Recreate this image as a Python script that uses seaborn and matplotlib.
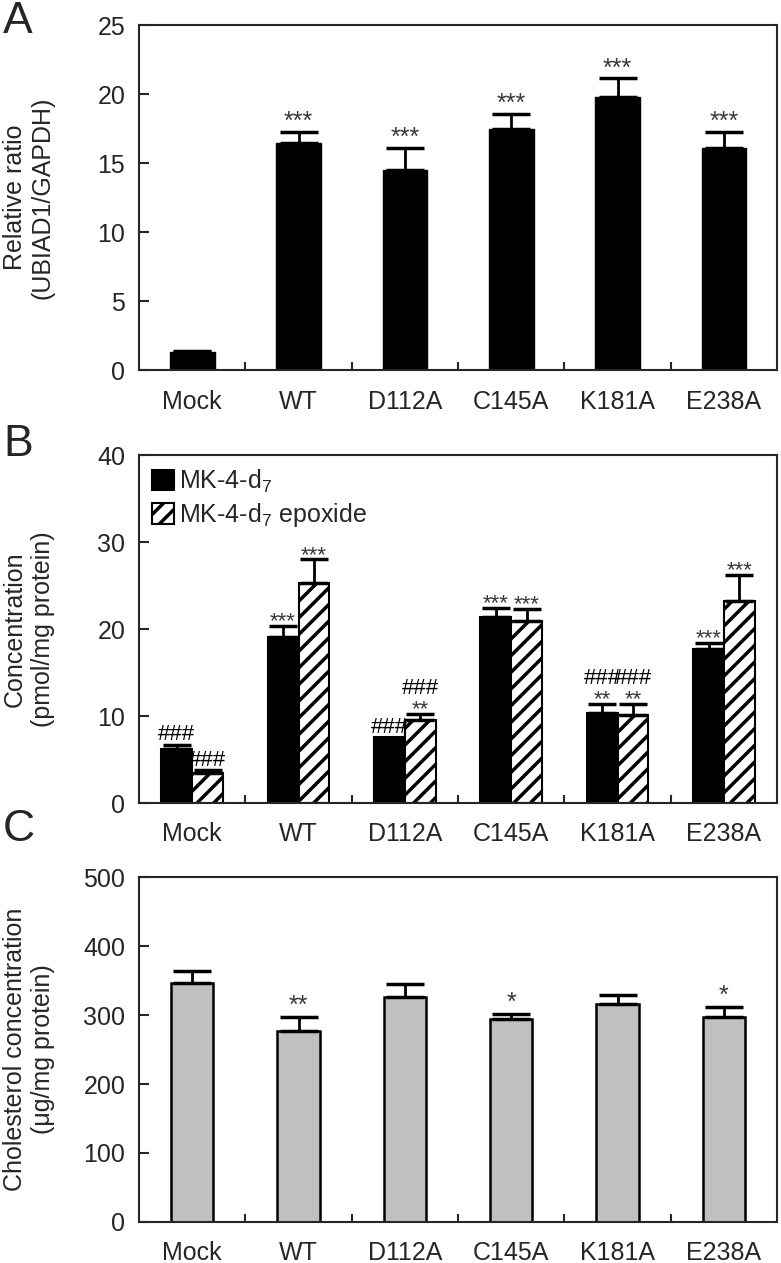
import matplotlib
matplotlib.use('Agg')
import matplotlib.pyplot as plt
import seaborn as sns
import numpy as np
import pandas as pd

groups = ['Mock', 'WT', 'D112A', 'C145A', 'K181A', 'E238A']

# A - UBIAD1 expression
ratio_mean = [1.3, 16.45, 14.5, 17.45, 19.8, 16.1]
ratio_err = [0.1, 0.8, 1.6, 1.1, 1.35, 1.15]
ratio_stars = ['', '***', '***', '***', '***', '***']

# B - MK-4-d7 / MK-4-d7 epoxide
mk4_mean = [6.2, 19.1, 7.6, 21.4, 10.3, 17.7]
mk4_err = [0.5, 1.2, 0.0, 1.0, 1.1, 0.7]
mk4_stars = ['', '***', '', '***', '**', '***']
mk4_hash = ['###', '', '###', '', '###', '']
epo_mean = [3.5, 25.3, 9.6, 20.9, 10.1, 23.2]
epo_err = [0.3, 2.7, 0.6, 1.4, 1.3, 3.0]
epo_stars = ['', '***', '**', '***', '**', '***']
epo_hash = ['###', '', '###', '', '###', '']
series = ['MK-4-d$_7$', 'MK-4-d$_7$ epoxide']

# C - cholesterol
chol_mean = [346, 277, 326, 294, 316, 297]
chol_err = [18, 20, 19, 7, 13, 15]
chol_stars = ['', '**', '', '*', '', '*']

sns.set_style('ticks')
plt.rcParams['font.family'] = ['Liberation Sans', 'DejaVu Sans']
plt.rcParams['mathtext.fontset'] = 'custom'
plt.rcParams['mathtext.rm'] = 'Liberation Sans'
plt.rcParams['mathtext.it'] = 'Liberation Sans:italic'
plt.rcParams['hatch.linewidth'] = 2.5

fig = plt.figure(figsize=(7.81, 12.63), dpi=100)
axA = fig.add_axes([0.178, 0.707, 0.817, 0.273])
axB = fig.add_axes([0.178, 0.3642, 0.817, 0.2755])
axC = fig.add_axes([0.178, 0.0325, 0.817, 0.273])


def style_axis(ax, ymax, ystep, ylabel):
    ax.set_xlim(-0.5, 5.5)
    ax.set_ylim(0, ymax)
    ax.set_yticks(np.arange(0, ymax + 1, ystep))
    ax.set_xticks(np.arange(0.5, 5, 1), minor=True)
    ax.tick_params(axis='y', direction='in', length=7, width=1.5, labelsize=18, pad=10)
    ax.tick_params(axis='x', which='major', length=0, labelsize=18, pad=14)
    ax.tick_params(axis='x', which='minor', direction='in', length=6, width=1.5)
    for s in ax.spines.values():
        s.set_visible(True)
        s.set_linewidth(1.5)
    ax.set_xlabel('')
    ax.set_ylabel(ylabel, fontsize=18, linespacing=1.2)
    ax.yaxis.set_label_coords(-0.132, 0.5)


def add_err(ax, x, mean, err, cap):
    x = np.array(x); mean = np.array(mean, float); err = np.array(err, float)
    m = err > 0
    ax.errorbar(x[m], mean[m], yerr=[np.zeros(m.sum()), err[m]], fmt='none',
                ecolor='black', elinewidth=2, capsize=cap, capthick=2.5, zorder=3)


def add_marks(ax, x, top, stars, hashes, fs, off, hash_alone=-0.5, hash_above=11):
    for xi, t, s, h in zip(x, top, stars, hashes):
        if s:
            ax.annotate(s, (xi, t), xytext=(0, off), textcoords='offset points',
                        ha='center', va='bottom', fontsize=fs, color='#383838')
        if h:
            ax.annotate(h, (xi, t), xytext=(0, hash_above if s else hash_alone),
                        textcoords='offset points', ha='center', va='bottom',
                        fontsize=16, color='black')


# ---- A
dfA = pd.DataFrame({'group': groups, 'value': ratio_mean})
sns.barplot(data=dfA, x='group', y='value', color='black', width=0.42, ax=axA,
            edgecolor='black', linewidth=1, errorbar=None)
xA = [p.get_x() + p.get_width() / 2 for p in axA.patches]
add_err(axA, xA, ratio_mean, ratio_err, 13.5)
topA = np.array(ratio_mean) + np.array(ratio_err)
add_marks(axA, xA, topA, ratio_stars, [''] * 6, 18, -1.5)
style_axis(axA, 25, 5, 'Relative ratio\n(UBIAD1/GAPDH)')

# ---- B
dfB = pd.DataFrame({'group': groups * 2,
                    'value': mk4_mean + epo_mean,
                    'kind': [series[0]] * 6 + [series[1]] * 6})
sns.barplot(data=dfB, x='group', y='value', hue='kind', palette=['black', 'white'],
            width=0.58, ax=axB, edgecolor='black', linewidth=1.5, errorbar=None,
            legend=False)
for p in axB.containers[1]:
    p.set_hatch('//')
    p.set_facecolor('white')
    p.set_edgecolor('black')
xB1 = [p.get_x() + p.get_width() / 2 for p in axB.containers[0]]
xB2 = [p.get_x() + p.get_width() / 2 for p in axB.containers[1]]
add_err(axB, xB1, mk4_mean, mk4_err, 10)
add_err(axB, xB2, epo_mean, epo_err, 10)
add_marks(axB, xB1, np.array(mk4_mean) + np.array(mk4_err), mk4_stars, mk4_hash, 16, -4.5)
add_marks(axB, xB2, np.array(epo_mean) + np.array(epo_err), epo_stars, epo_hash, 16, -4.5)
axB.legend(handles=[axB.containers[0][0], axB.containers[1][0]], labels=series,
           loc='upper left', frameon=False, fontsize=18, handlelength=0.9,
           handleheight=0.9, handletextpad=0.2, labelspacing=0.25,
           borderaxespad=0.3, borderpad=0.2)
style_axis(axB, 40, 10, 'Concentration\n(pmol/mg protein)')

# ---- C
dfC = pd.DataFrame({'group': groups, 'value': chol_mean})
sns.barplot(data=dfC, x='group', y='value', color='#c0c0c0', width=0.40, ax=axC,
            edgecolor='black', linewidth=1.8, errorbar=None, saturation=1)
xC = [p.get_x() + p.get_width() / 2 for p in axC.patches]
add_err(axC, xC, chol_mean, chol_err, 13.5)
add_marks(axC, xC, np.array(chol_mean) + np.array(chol_err), chol_stars, [''] * 6, 18, -0.5)
style_axis(axC, 500, 100, 'Cholesterol concentration\n(\u03bcg/mg protein)')

fig.text(0.004, 0.9995, 'A', fontsize=32, va='top')
fig.text(0.004, 0.6645, 'B', fontsize=32, va='top')
fig.text(0.004, 0.3597, 'C', fontsize=32, va='top')

fig.savefig('out.png', dpi=100)
